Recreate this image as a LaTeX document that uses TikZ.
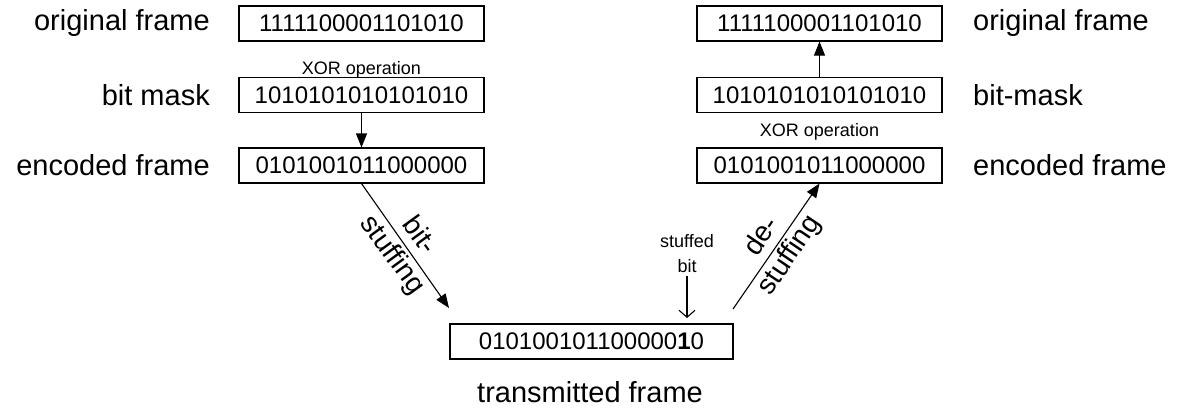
\documentclass[tikz,border=0pt]{standalone}
\usepackage{fontspec}
\setmainfont{Liberation Sans}
\usetikzlibrary{arrows.meta}
\tikzset{
  framebox/.style={draw, line width=1.1pt, minimum width=245pt, minimum height=35pt, inner sep=0pt, font=\fontsize{24}{28}\selectfont},
  lbl/.style={inner sep=0pt, font=\fontsize{29}{34}\selectfont},
  small/.style={inner sep=0pt, font=\fontsize{18}{25}\selectfont},
  rlbl/.style={inner sep=0pt, align=center, font=\fontsize{28}{33}\selectfont},
  conn/.style={line width=1.1pt, -{Triangle[length=14pt,width=11pt]}},
  thin/.style={line width=1.1pt, -{Straight Barb[length=7pt,width=16pt,line width=1.1pt]}}
}
\begin{document}
\begin{tikzpicture}[x=1pt,y=-1pt]
\useasboundingbox (0,0) rectangle (1177,410);
% left column
\node[framebox] (orig1) at (361.5,23.5) {1111100001101010};
\node[framebox] (mask1) at (361.5,95) {1010101010101010};
\node[framebox] (enc1) at (361.5,165.5) {0101001011000000};
\node[lbl, anchor=east] (lo1) at (210,23.5) {original frame};
\node[lbl, anchor=east] (lm1) at (210,95) {bit mask};
\node[lbl, anchor=east] (le1) at (210,165.5) {encoded frame};
\node[small, anchor=base] (xor1) at (361.5,74) {XOR operation};
% right column
\node[framebox] (orig2) at (819.5,23.5) {1111100001101010};
\node[framebox] (mask2) at (819.5,95) {1010101010101010};
\node[framebox] (enc2) at (819.5,165.5) {0101001011000000};
\node[lbl, anchor=west] (lo2) at (973,23.5) {original frame};
\node[lbl, anchor=west] (lm2) at (973,95) {bit-mask};
\node[lbl, anchor=west] (le2) at (973,165.5) {encoded frame};
\node[small, anchor=base] (xor2) at (819.5,136) {XOR operation};
% bottom
\node[framebox, minimum width=283pt] (tx) at (591.5,341.5) {010100101100000\textbf{1}0};
\node[lbl] (txl) at (590,392) {transmitted frame};
\node[small, align=center, font=\fontsize{18}{25}\selectfont] (sb) at (687,254) {stuffed\\bit};
\coordinate (sbend) at (687,318);
\coordinate (t1) at (449,308);
\coordinate (t2) at (733,309);
% connectors
\draw[conn] (mask1.south) -- (enc1.north);
\draw[conn] (mask2.north) -- (orig2.south);
\draw[conn] (enc1.south) -- node[rlbl, rotate=-54] {bit-\\stuffing} (t1);
\draw[conn] (t2) -- node[rlbl, rotate=56] {de-\\stuffing} (enc2.south);
\draw[thin] (sb.south) ++(0,3) -- (sbend);
\end{tikzpicture}
\end{document}
